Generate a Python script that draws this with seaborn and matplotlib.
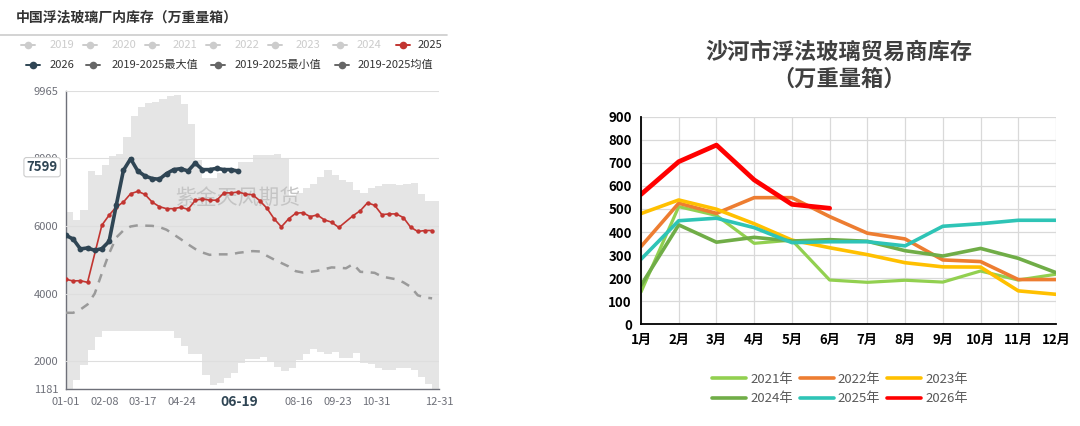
import numpy as np
import pandas as pd
import matplotlib
matplotlib.use("Agg")
import matplotlib.pyplot as plt
import seaborn as sns
from matplotlib.lines import Line2D

# ---------------- 左图：中国浮法玻璃厂内库存（周度） ----------------
week_days = np.arange(52) * 7          # 每周一个点，按当年天数排布
tick_days = [0, 38, 75, 113, 151, 189, 227, 265, 303, 364]
# 06-01、07-09 两个刻度被 06-19 指示框遮住
tick_dates = ["01-01", "02-08", "03-17", "04-24", "", "",
              "08-16", "09-23", "10-31", "12-31"]

inv_2025 = [4420, 4370, 4380, 4330, np.nan, 6015, 6307, 6550, 6695, 6940,
            7010, 6920, 6695, 6560, 6500, 6500, 6540, 6480, 6745, 6790,
            6750, 6750, 6965, 6965, 6990, 6930, 6910, 6733, 6510, 6199,
            5965, 6199, 6365, 6383, 6266, 6315, 6170, 6102, 5946, np.nan,
            6295, 6441, 6674, 6598, 6324, 6345, 6345, 6237, 5956, 5828,
            5857, 5857]
inv_2026 = [5711, 5606, 5314, 5343, 5273, 5323, 5536, 6600, 7629, 7970,
            7609, 7463, 7387, 7366, 7533, 7650, 7679, 7609, 7843, 7650,
            7650, 7688, 7650, 7650, 7599]
inv_max = [6394, 6169, 6461, 7600, 7483, 7775, 8047, 8117, 8613, 9226,
           9489, 9615, 9653, 9731, 9828, 9857, 9585, 9002, 7930, 7396,
           7396, 7542, 7542, 7688, 7863, 7863, 8076, 8088, 8088, 8117,
           7971, 6850, 6949, 7113, 7241, 7434, 7629, 7483, 7337, 7289,
           7045, 6967, 7095, 7162, 7241, 7220, 7200, 7241, 7260, 6920,
           6733, 6733]
inv_min = [1181, 1453, 1911, 2329, 2716, 2891, 2891, 2891, 2891, 2891,
           2891, 2891, 2891, 2891, 2891, 2688, 2445, 2232, 2232, 1600,
           1307, 1374, 1502, 1648, 1957, 2086, 2086, 2133, 2016, 1823,
           1724, 1812, 2057, 2232, 2378, 2280, 2212, 2280, 2115, 2115,
           2250, 1957, 1920, 1794, 1745, 1745, 1794, 1794, 1745, 1549,
           1336, 1181]
inv_mean = [3434, 3434, 3530, 3680, 4000, 4600, 5180, 5650, 5860, 5975,
            6010, 6000, 5994, 5960, 5880, 5740, 5600, 5450, 5313, 5210,
            5140, 5155, 5155, 5155, 5200, 5225, 5250, 5240, 5110, 5000,
            4900, 4800, 4660, 4620, 4640, 4670, 4720, 4770, 4760, 4745,
            4870, 4640, 4631, 4610, 4500, 4460, 4420, 4330, 4200, 3950,
            3883, 3860]
left_yticks = [1181, 2000, 4000, 6000, 8000, 9965]

# ---------------- 右图：沙河市浮法玻璃贸易商库存（月度） ----------------
month_nums = list(range(1, 13))
month_labels = [f"{m}月" for m in month_nums]
years = ["2021年", "2022年", "2023年", "2024年", "2025年", "2026年"]
y2021 = [140, 510, 472, 351, 365, 192, 182, 191, 183, 231, 192, 217]
y2022 = [337, 525, 481, 549, 549, 467, 395, 370, 279, 272, 194, 194]
y2023 = [480, 539, 499, 436, 365, 332, 302, 267, 249, 248, 145, 130]
y2024 = [169, 431, 356, 377, 361, 367, 360, 319, 296, 329, 286, 224]
y2025 = [282, 449, 460, 419, 354, 358, 358, 340, 425, 436, 451, 451]
y2026 = [563, 705, 777, 626, 520, 503]
year_colors = {"2021年": "#92d050", "2022年": "#ed7d31", "2023年": "#ffc000",
               "2024年": "#70ad47", "2025年": "#2ec4b6", "2026年": "#ff0000"}
year_widths = {"2021年": 2.3, "2022年": 2.6, "2023年": 2.6,
               "2024年": 2.6, "2025年": 2.6, "2026年": 3.4}

sns.set_theme(style="white")
plt.rcParams["font.family"] = ["Noto Sans CJK SC", "DejaVu Sans"]
plt.rcParams["axes.unicode_minus"] = False

fig = plt.figure(figsize=(10.8, 4.26), dpi=100)

# ===== 左图 =====
axL = fig.add_axes([66 / 1080, 1 - 389.3 / 426, 373.3 / 1080, 298.3 / 426])
band_x = np.append(week_days, 364)
axL.fill_between(band_x, np.append(inv_min, inv_min[-1]),
                 np.append(inv_max, inv_max[-1]),
                 step="post", color="#e5e5e5", lw=0, zorder=1)

sns.lineplot(x=week_days, y=inv_mean, color="#9a9a9a", linewidth=1.8,
             linestyle=(0, (3.5, 3)), ax=axL, zorder=3)

df25 = pd.DataFrame({"day": week_days, "v": inv_2025}).dropna()
sns.lineplot(data=df25, x="day", y="v", color="#c23531", linewidth=1.2,
             marker="o", markersize=3.2, markeredgewidth=0, ax=axL, zorder=4)

sns.lineplot(x=week_days[:len(inv_2026)], y=inv_2026, color="#2f4554",
             linewidth=2.6, marker="o", markersize=4.2, markeredgewidth=0,
             ax=axL, zorder=5)

axL.text(0.461, 0.641, "紫金天风期货", transform=axL.transAxes, fontsize=15,
         color="#c4c4c4", ha="center", va="center", zorder=2)

axL.set_xlim(0, 364)
axL.set_ylim(1181, 9965)
axL.set_xticks(tick_days)
axL.set_xticklabels(tick_dates)
axL.set_yticks(left_yticks)
axL.set_yticklabels([str(v) for v in left_yticks])
axL.set_xlabel("")
axL.set_ylabel("")
axL.grid(axis="y", color="#dedede", lw=0.8)
axL.grid(axis="x", visible=False)
axL.set_axisbelow(False)
for s in ["top", "right"]:
    axL.spines[s].set_visible(False)
for s in ["left", "bottom"]:
    axL.spines[s].set_color("#6e7079")
    axL.spines[s].set_linewidth(1)
axL.tick_params(axis="both", direction="out", length=3.5, width=0.8,
                color="#6e7079", labelcolor="#6e7079", labelsize=8, pad=2)

axL.annotate("7599", xy=(0, 7599), xycoords=("axes fraction", "data"),
             xytext=(-6, 3), textcoords="offset points", ha="right",
             va="center", fontsize=9.5, fontweight="bold", color="#2f4554",
             bbox=dict(boxstyle="round,pad=0.2", fc="white", ec="#cccccc",
                       lw=0.8), zorder=10, annotation_clip=False)
axL.annotate("06-19", xy=(169, 0), xycoords=("data", "axes fraction"),
             xytext=(0, -9.5), textcoords="offset points", ha="center",
             va="center", fontsize=10, fontweight="bold", color="#2f4554",
             zorder=10, annotation_clip=False)

# ===== 右图 =====
axR = fig.add_axes([641 / 1080, 1 - 324.3 / 426, 415 / 1080, 207.6 / 426])
series = [y2021, y2022, y2023, y2024, y2025, y2026]
df_r = pd.concat([pd.DataFrame({"month": month_nums[:len(v)], "value": v,
                                "year": y}) for y, v in zip(years, series)])
sns.lineplot(data=df_r, x="month", y="value", hue="year", size="year",
             hue_order=years, size_order=years, palette=year_colors,
             sizes=year_widths, legend=False, sort=False, ax=axR)

axR.set_xlim(1, 12)
axR.set_ylim(0, 900)
axR.set_xticks(month_nums)
axR.set_xticklabels(month_labels)
axR.set_yticks(np.arange(0, 901, 100))
axR.set_xlabel("")
axR.set_ylabel("")
axR.grid(True, color="#d9d9d9", lw=0.9)
axR.set_axisbelow(True)
for s in ["top", "right"]:
    axR.spines[s].set_visible(False)
for s in ["left", "bottom"]:
    axR.spines[s].set_color("#000000")
    axR.spines[s].set_linewidth(1.3)
axR.tick_params(axis="both", direction="out", length=3.5, width=1.1,
                color="#000000", labelcolor="#000000", labelsize=9.5, pad=3)
for lbl in axR.get_xticklabels() + axR.get_yticklabels():
    lbl.set_fontweight("bold")

# 右图图例：按行排列
order = [0, 3, 1, 4, 2, 5]
handles = [Line2D([0], [0], color=year_colors[years[i]], lw=2.6,
                  solid_capstyle="round") for i in order]
labels = [years[i] for i in order]
fig.legend(handles, labels, ncol=3, loc="center",
           bbox_to_anchor=(840 / 1080, 1 - 389 / 426), frameon=False,
           fontsize=9.5, handlelength=2.6, handletextpad=0.3,
           columnspacing=0.5, labelspacing=0.5, labelcolor="#595959")

# ===== 标题与左图图例（像素坐标叠加层） =====
axO = fig.add_axes([0, 0, 1, 1])
axO.set_xlim(0, 1080)
axO.set_ylim(426, 0)
axO.axis("off")
axO.patch.set_visible(False)

axO.text(16, 18, "中国浮法玻璃厂内库存（万重量箱）", fontsize=10,
         fontweight="bold", color="#333333", ha="left", va="center")
axO.plot([0, 447], [35, 35], color="#cccccc", lw=1.2)

legend_rows = [
    # (marker x, text x, y, color, text color, label)
    (28, 50, 45, "#cccccc", "#cccccc", "2019"),
    (90, 112, 45, "#cccccc", "#cccccc", "2020"),
    (152, 173, 45, "#cccccc", "#cccccc", "2021"),
    (213, 235, 45, "#cccccc", "#cccccc", "2022"),
    (275, 296, 45, "#cccccc", "#cccccc", "2023"),
    (340, 357, 45, "#cccccc", "#cccccc", "2024"),
    (403, 418, 45, "#c23531", "#333333", "2025"),
    (33, 50, 65, "#2f4554", "#333333", "2026"),
    (93, 112, 65, "#666666", "#333333", "2019-2025最大值"),
    (218, 235, 65, "#666666", "#333333", "2019-2025最小值"),
    (342, 358, 65, "#666666", "#333333", "2019-2025均值"),
]
for xm, xt, yy, col, tcol, lab in legend_rows:
    axO.plot([xm - 7, xm + 7], [yy, yy], color=col, lw=1.4)
    axO.plot([xm], [yy], marker="o", ms=5.5, color=col, mew=0)
    axO.text(xt, yy, lab, fontsize=8, color=tcol, ha="left", va="center")

axO.text(839, 66, "沙河市浮法玻璃贸易商库存\n（万重量箱）", fontsize=16,
         fontweight="bold", color="#404040", ha="center", va="center",
         linespacing=1.25)

fig.savefig("out.png", dpi=100)
